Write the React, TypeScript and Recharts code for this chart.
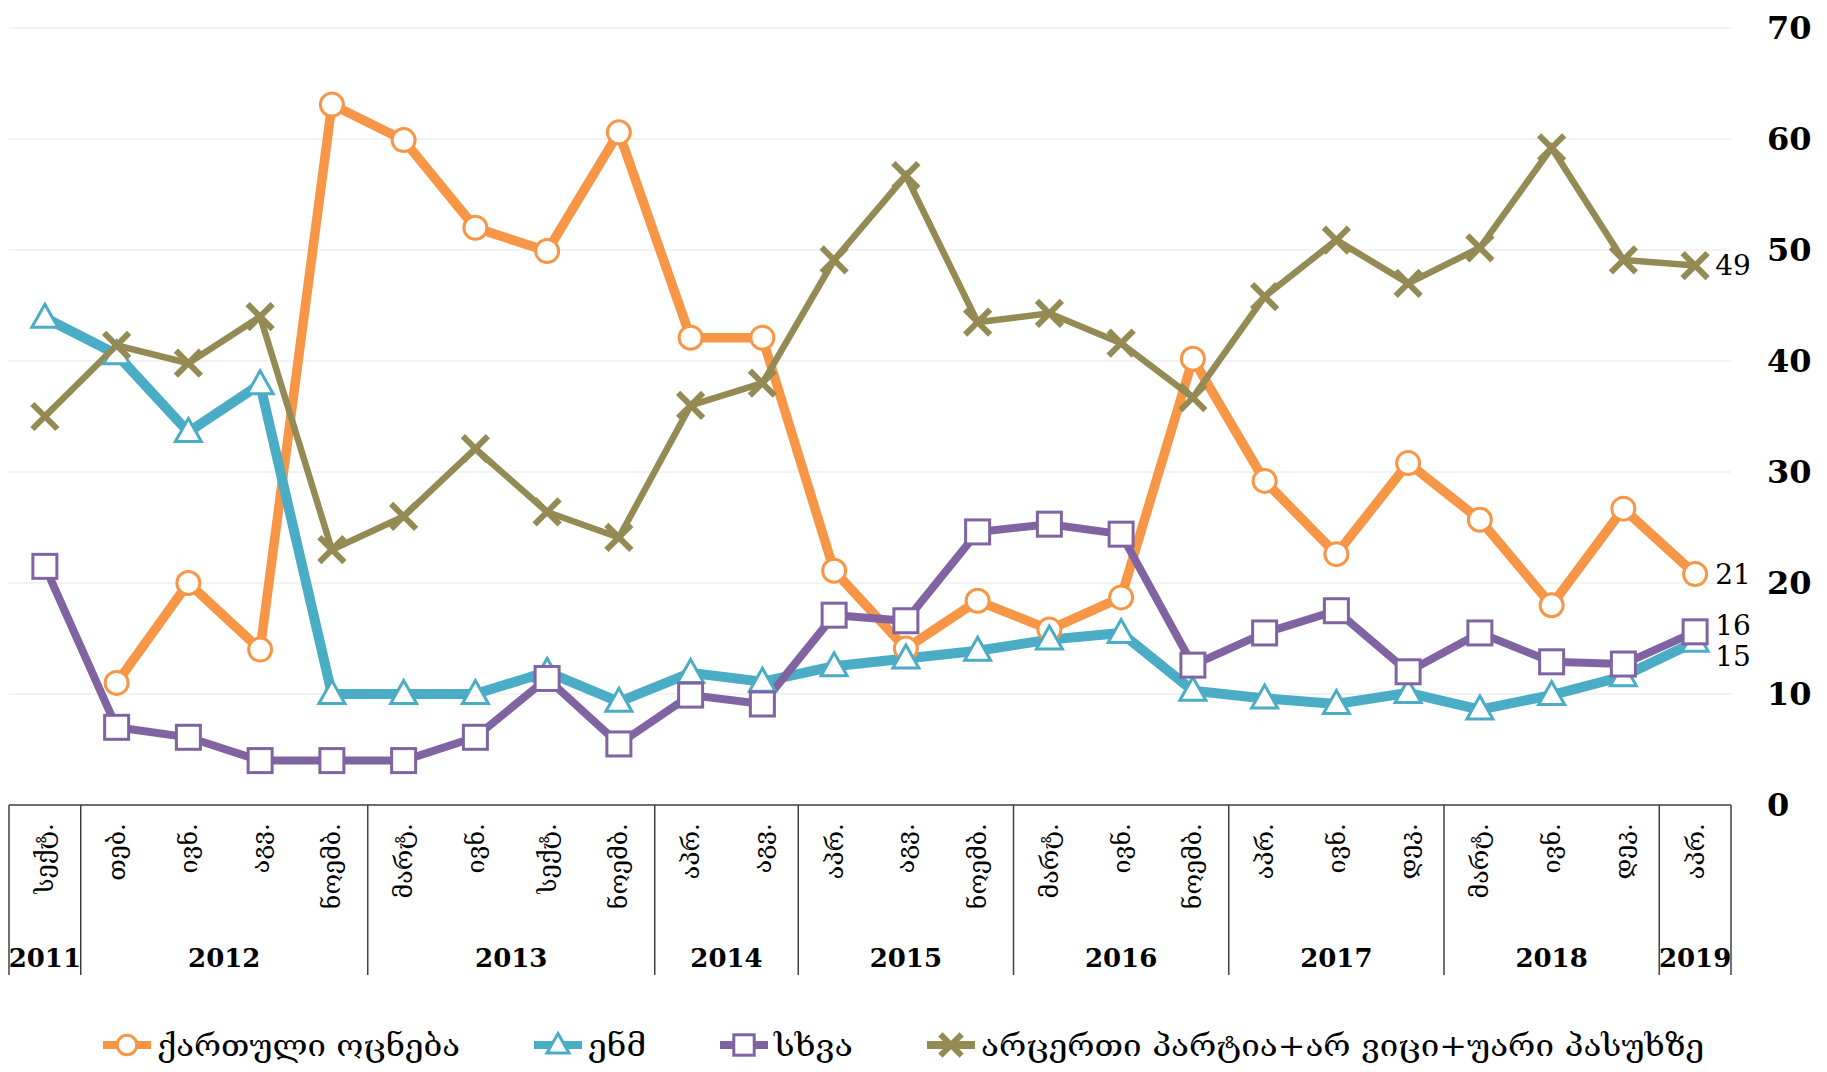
import {
  CartesianGrid,
  LabelList,
  Legend,
  Line,
  LineChart,
  XAxis,
  YAxis,
} from 'recharts';

const months = [
  'სექტ.', 'თებ.', 'ივნ.', 'აგვ.', 'ნოემბ.', 'მარტ.', 'ივნ.', 'სექტ.', 'ნოემბ.',
  'აპრ.', 'აგვ.', 'აპრ.', 'აგვ.', 'ნოემბ.', 'მარტ.', 'ივნ.', 'ნოემბ.',
  'აპრ.', 'ივნ.', 'დეკ.', 'მარტ.', 'ივნ.', 'დეკ.', 'აპრ.',
];
const years = [
  '2011', '2012', '2012', '2012', '2012', '2013', '2013', '2013', '2013',
  '2014', '2014', '2015', '2015', '2015', '2016', '2016', '2016',
  '2017', '2017', '2017', '2018', '2018', '2018', '2019',
];
const georgianDream = [
  null, 11, 20, 14, 63.1, 59.9, 52, 49.9, 60.6, 42.1, 42.1, 21.1, 14.1, 18.4,
  15.8, 18.7, 40.2, 29.2, 22.6, 30.8, 25.7, 18, 26.7, 20.8,
];
const unm = [
  43.9, 40.6, 33.6, 37.9, 10, 10, 10, 12, 9.3, 11.9, 11.1, 12.5, 13.2, 13.9,
  14.9, 15.5, 10.3, 9.6, 9.1, 10.1, 8.6, 9.9, 11.6, 14.7,
];
const other = [
  21.5, 7, 6.1, 4, 4, 4, 6.1, 11.4, 5.5, 9.9, 9.1, 17.1, 16.6, 24.6, 25.3,
  24.4, 12.6, 15.5, 17.5, 12, 15.5, 12.9, 12.7, 15.6,
];
const noneDontKnow = [
  35, 41.4, 39.8, 44, 23, 26, 32.1, 26.4, 24.1, 36, 38, 49.1, 56.7, 43.5,
  44.3, 41.6, 36.7, 45.8, 50.9, 47, 50.2, 59.2, 49.1, 48.6,
];
const yTicks = [0, 10, 20, 30, 40, 50, 60, 70];

const seriesNames = [
  'ქართული ოცნება',
  'ენმ',
  'სხვა',
  'არცერთი პარტია+არ ვიცი+უარი პასუხზე',
];

const data = months.map((m, i) => ({
  month: m,
  year: years[i],
  gd: georgianDream[i],
  unm: unm[i],
  other: other[i],
  none: noneDontKnow[i],
}));

const ORANGE = '#F79646';
const CYAN = '#4BACC6';
const PURPLE = '#8064A2';
const OLIVE = '#948A54';
const SERIF = "'DejaVu Serif', 'DejaVu Sans', serif";

// plot is 1722px wide, 24 slots -> half a slot of padding on each side
const HALF_SLOT = 1722 / 24 / 2;

type Shape = 'circle' | 'triangle' | 'square' | 'x';

function Marker({ cx, cy, shape, color, s = 1 }: any) {
  if (cx == null || cy == null) return <g />;
  if (shape === 'circle')
    return <circle cx={cx} cy={cy} r={11.5 * s} fill="#fff" stroke={color} strokeWidth={3} />;
  if (shape === 'triangle')
    return (
      <polygon
        points={`${cx},${cy - 13.5 * s} ${cx + 13 * s},${cy + 9.5 * s} ${cx - 13 * s},${cy + 9.5 * s}`}
        fill="#fff"
        stroke={color}
        strokeWidth={3}
      />
    );
  if (shape === 'square')
    return (
      <rect x={cx - 12 * s} y={cy - 12 * s} width={24 * s} height={24 * s} fill="#fff" stroke={color} strokeWidth={3} />
    );
  const d = 12.5 * s;
  return (
    <g stroke={color} strokeWidth={6}>
      <line x1={cx - d} y1={cy - d} x2={cx + d} y2={cy + d} />
      <line x1={cx - d} y1={cy + d} x2={cx + d} y2={cy - d} />
    </g>
  );
}

const dotFor = (shape: Shape, color: string) => (p: any) => (
  <Marker key={`${shape}-${p.index}`} cx={p.cx} cy={p.cy} shape={shape} color={color} />
);

const lastLabel = (dy: number) => (p: any) => {
  if (p.index !== data.length - 1 || p.value == null) return null;
  return (
    <text
      key={`lbl-${p.index}`}
      x={p.x + 20}
      y={p.y + dy}
      dominantBaseline="central"
      fontFamily={SERIF}
      fontSize={28}
      fill="#000"
    >
      {Math.round(p.value)}
    </text>
  );
};

function MonthTick(props: any) {
  const { x, y, index, payload } = props;
  const half = HALF_SLOT;
  const year = years[index];
  const first = index === 0 || years[index - 1] !== year;
  let count = 0;
  for (let j = index; j < years.length && years[j] === year; j++) count++;
  return (
    <g>
      <text
        transform={`translate(${x},${y + 18}) rotate(-90)`}
        textAnchor="end"
        dominantBaseline="central"
        fontFamily={SERIF}
        fontSize={25}
        fill="#000"
      >
        {payload.value}
      </text>
      {first && (
        <>
          <line x1={x - half} y1={y} x2={x - half} y2={y + 170} stroke="#404040" strokeWidth={1.5} />
          <text
            x={x - half + count * half}
            y={y + 162}
            textAnchor="middle"
            fontFamily={SERIF}
            fontWeight="bold"
            fontSize={26}
            fill="#000"
          >
            {year}
          </text>
        </>
      )}
      {index === years.length - 1 && (
        <line x1={x + half} y1={y} x2={x + half} y2={y + 170} stroke="#404040" strokeWidth={1.5} />
      )}
    </g>
  );
}

function ValueTick({ x, y, payload }: any) {
  return (
    <text x={x + 36} y={y} dominantBaseline="central" fontFamily={SERIF} fontWeight="bold" fontSize={32} fill="#000">
      {payload.value}
    </text>
  );
}

const legendShapes: Shape[] = ['circle', 'triangle', 'square', 'x'];
const legendColors = [ORANGE, CYAN, PURPLE, OLIVE];
const legendTextWidths = [303, 58, 79, 723];

function LegendContent() {
  let x = 103;
  const items = seriesNames.map((name, i) => {
    const start = x;
    x += 48 + 6 + legendTextWidths[i] + 74;
    return (
      <g key={name}>
        <line x1={start} y1={65} x2={start + 48} y2={65} stroke={legendColors[i]} strokeWidth={8} />
        <Marker cx={start + 24} cy={65} shape={legendShapes[i]} color={legendColors[i]} s={0.85} />
        <text
          x={start + 54}
          y={76}
          textLength={legendTextWidths[i]}
          lengthAdjust="spacingAndGlyphs"
          fontFamily={SERIF}
          fontSize={30}
          fill="#000"
        >
          {name}
        </text>
      </g>
    );
  });
  return (
    <svg width={1827} height={92} style={{ display: 'block' }}>
      {items}
    </svg>
  );
}

export default function App() {
  return (
    <div style={{ position: 'absolute', left: 0, top: 0, background: '#fff' }}>
      <LineChart width={1827} height={1072} data={data} margin={{ top: 28, right: 0, left: 9, bottom: 0 }}>
        <CartesianGrid vertical={false} stroke="#efefef" strokeWidth={1.5} />
        <XAxis
          dataKey="month"
          interval={0}
          height={175}
          padding={{ left: HALF_SLOT, right: HALF_SLOT }}
          tickLine={false}
          tickSize={0}
          tickMargin={0}
          axisLine={{ stroke: '#404040', strokeWidth: 1.5 }}
          tick={<MonthTick />}
        />
        <YAxis
          orientation="right"
          domain={[0, 70]}
          ticks={yTicks}
          width={96}
          axisLine={false}
          tickLine={false}
          tickSize={0}
          tickMargin={0}
          tick={<ValueTick />}
        />
        <Legend verticalAlign="bottom" height={92} wrapperStyle={{ left: 0, width: 1827 }} content={<LegendContent />} />
        <Line
          dataKey="gd"
          name={seriesNames[0]}
          stroke={ORANGE}
          strokeWidth={9.5}
          dot={dotFor('circle', ORANGE)}
          isAnimationActive={false}
        >
          <LabelList dataKey="gd" content={lastLabel(0)} />
        </Line>
        <Line
          dataKey="unm"
          name={seriesNames[1]}
          stroke={CYAN}
          strokeWidth={10}
          dot={dotFor('triangle', CYAN)}
          isAnimationActive={false}
        >
          <LabelList dataKey="unm" content={lastLabel(15)} />
        </Line>
        <Line
          dataKey="other"
          name={seriesNames[2]}
          stroke={PURPLE}
          strokeWidth={8}
          dot={dotFor('square', PURPLE)}
          isAnimationActive={false}
        >
          <LabelList dataKey="other" content={lastLabel(-6)} />
        </Line>
        <Line
          dataKey="none"
          name={seriesNames[3]}
          stroke={OLIVE}
          strokeWidth={6.5}
          dot={dotFor('x', OLIVE)}
          isAnimationActive={false}
        >
          <LabelList dataKey="none" content={lastLabel(0)} />
        </Line>
      </LineChart>
    </div>
  );
}
